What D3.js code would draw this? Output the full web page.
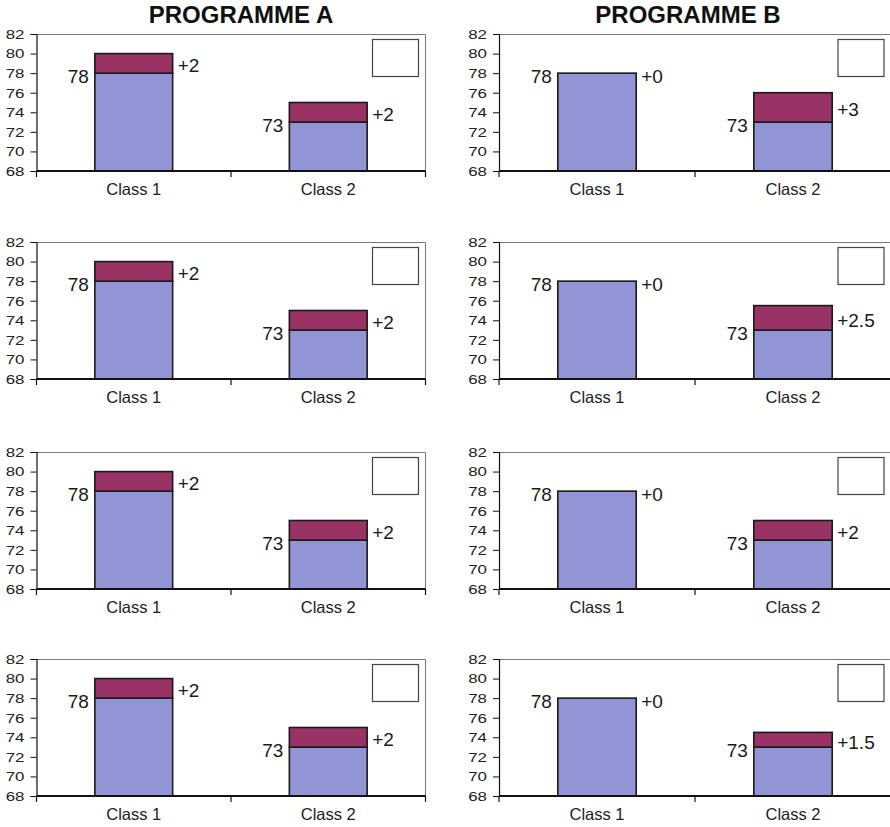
<!DOCTYPE html>
<html>
<head>
<meta charset="utf-8">
<script src="https://cdn.jsdelivr.net/npm/d3@7"></script>
<style>
  html, body { margin: 0; padding: 0; background: #fff; }
  svg { display: block; font-family: "Liberation Sans", Arial, Helvetica, sans-serif; }
</style>
</head>
<body>
<svg id="chart" width="890" height="827"></svg>
<script>
// Programme titles and class categories
const programmes = ["PROGRAMME A", "PROGRAMME B"];
const classes = ["Class 1", "Class 2"];

// Baseline scores per row of small charts (Class 1, Class 2)
const progABase = [[78, 73], [78, 73], [78, 73], [78, 73]];
const progAGain = [[2, 2], [2, 2], [2, 2], [2, 2]];
const progBBase = [[78, 73], [78, 73], [78, 73], [78, 73]];
const progBGain = [[0, 3], [0, 2.5], [0, 2], [0, 1.5]];

// Y axis range and tick labels
const yDomain = [68, 82];
const yTicks = [68, 70, 72, 74, 76, 78, 80, 82];

const baseColor = "#9295d5";
const gainColor = "#993366";

const svg = d3.select("#chart");

// Layout of the 2 x 4 grid of panels
const rowTops = [34, 242, 452, 659];
const plotH = 137;
const colLeft = [36.5, 499];
const colWidth = [389, 392];
const titleX = [241, 688];

programmes.forEach((p, c) => {
  svg.append("text")
    .attr("x", titleX[c]).attr("y", 23)
    .attr("text-anchor", "middle")
    .attr("font-weight", "bold")
    .attr("font-size", 24)
    .attr("fill", "#111")
    .text(p);
});

function panel(col, row, base, gain) {
  const left = colLeft[col], top = rowTops[row];
  const w = colWidth[col];
  const g = svg.append("g").attr("transform", `translate(${left},${top})`);

  const y = d3.scaleLinear().domain(yDomain).range([plotH, 0]);
  const x = d3.scaleBand().domain(classes).range([0, w])
    .paddingInner(0.6).paddingOuter(0.3);

  // plot frame: top and right edges
  g.append("path")
    .attr("d", `M0,0.5H${w}V${plotH}`)
    .attr("fill", "none").attr("stroke", "#777").attr("stroke-width", 1);

  // legend placeholder box
  g.append("rect")
    .attr("x", w - 53).attr("y", 5.5)
    .attr("width", 46).attr("height", 37)
    .attr("fill", "#fff").attr("stroke", "#444").attr("stroke-width", 1.2);

  // y axis
  const yAxis = g.append("g")
    .call(d3.axisLeft(y).tickValues(yTicks).tickSize(6).tickPadding(6));
  yAxis.select(".domain").attr("stroke", "#111").attr("stroke-width", 1.2);
  yAxis.selectAll(".tick line").attr("stroke", "#111");
  yAxis.selectAll(".tick text")
    .attr("font-size", 13.5).attr("fill", "#222")
    .attr("font-family", "\"Liberation Sans\", Arial, sans-serif")
    .attr("x", 0)
    .attr("transform", "translate(-12,0) scale(1.25,1)");

  // bars
  classes.forEach((cls, i) => {
    const bx = x(cls), bw = x.bandwidth();
    const b = base[i], d = gain[i];
    g.append("rect")
      .attr("x", bx).attr("y", y(b))
      .attr("width", bw).attr("height", y(yDomain[0]) - y(b))
      .attr("fill", baseColor).attr("stroke", "#1a1a1a").attr("stroke-width", 1.6);
    if (d > 0) {
      g.append("rect")
        .attr("x", bx).attr("y", y(b + d))
        .attr("width", bw).attr("height", y(b) - y(b + d))
        .attr("fill", gainColor).attr("stroke", "#1a1a1a").attr("stroke-width", 1.6);
    }
    // value labels
    g.append("text")
      .attr("x", bx - 6).attr("y", y(b) + 3.5)
      .attr("dy", "0.36em")
      .attr("text-anchor", "end")
      .attr("font-size", 19).attr("fill", "#1a1a1a")
      .text(b);
    g.append("text")
      .attr("x", bx + bw + 5).attr("y", y(b + d / 2) + (d > 0 ? 2 : 3))
      .attr("dy", "0.36em")
      .attr("font-size", 19).attr("fill", "#1a1a1a")
      .text("+" + d);
  });

  // x axis line with boundary ticks between categories
  const step = x.step();
  g.append("line")
    .attr("x1", 0).attr("x2", w)
    .attr("y1", plotH).attr("y2", plotH)
    .attr("stroke", "#111").attr("stroke-width", 2);
  d3.range(classes.length + 1).forEach(k => {
    g.append("line")
      .attr("x1", k * step).attr("x2", k * step)
      .attr("y1", plotH).attr("y2", plotH + 6)
      .attr("stroke", "#111").attr("stroke-width", 1.2);
  });
  classes.forEach(cls => {
    g.append("text")
      .attr("x", x(cls) + x.bandwidth() / 2)
      .attr("y", plotH + 24)
      .attr("text-anchor", "middle")
      .attr("font-size", 16.5).attr("fill", "#222")
      .text(cls);
  });
}

for (let r = 0; r < 4; r++) {
  panel(0, r, progABase[r], progAGain[r]);
  panel(1, r, progBBase[r], progBGain[r]);
}
</script>
</body>
</html>
